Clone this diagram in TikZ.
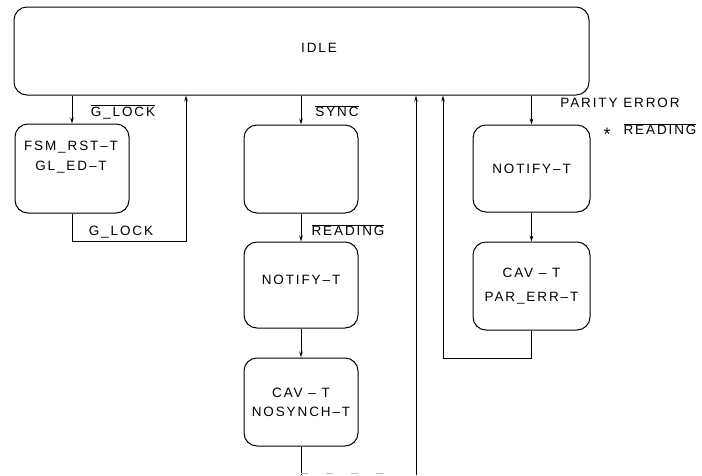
\documentclass[tikz,border=0pt]{standalone}
\usepackage{fontspec}
\setmainfont{Liberation Sans}[LetterSpace=14]
\usetikzlibrary{arrows.meta}
\newcommand\ovl[1]{$\overline{\mbox{#1}}$}
\newcommand\lblfont{\fontsize{13.5}{16}\selectfont}
\tikzset{
  statebox/.style={draw, line width=1pt, rounded corners=13pt, align=center, font=\lblfont, inner sep=0pt},
  lbl/.style={font=\lblfont, inner sep=0pt, align=center},
  arr/.style={line width=1pt, -{Stealth[length=6pt,width=3.5pt]}},
  ln/.style={line width=1pt},
  faint/.style={line width=0.7pt, gray!55, dash pattern=on 7pt off 18pt}
}
\begin{document}
\begin{tikzpicture}[x=1pt,y=-1pt]
\useasboundingbox (0,0) rectangle (702,475);
% states
\node[statebox, minimum width=575pt, minimum height=88pt] (idle) at (301.5,51) {};
\node[lbl] (idletxt) at (319,48) {IDLE};
\node[statebox, minimum width=114pt, minimum height=89pt] (fsm) at (72,168.5) {};
\node[lbl] (fsmtxt) at (71,157) {FSM\_RST–T\\[4pt]GL\_ED–T};
\node[statebox, minimum width=114pt, minimum height=88pt] (blank) at (301,169) {};
\node[statebox, minimum width=114pt, minimum height=86pt] (notm) at (301,285) {};
\node[lbl] (notmtxt) at (301,280) {NOTIFY–T};
\node[statebox, minimum width=114pt, minimum height=88pt] (cavm) at (301,402) {CAV – T\\[3pt]NOSYNCH–T};
\node[statebox, minimum width=117pt, minimum height=87pt] (notr) at (531.5,168.5) {NOTIFY–T};
\node[statebox, minimum width=117pt, minimum height=88pt] (cavr) at (531.5,286) {CAV – T\\[8pt]PAR\_ERR–T};
% labels
\node[lbl] (l1) at (123,112) {\ovl{G\_LOCK}};
\node[lbl] (l2) at (121,232) {G\_LOCK};
\node[lbl] (l3) at (337,111) {\ovl{SYNC}};
\node[lbl] (l4) at (348,230) {\ovl{READING}};
\node[lbl] (l5) at (620,103) {PARITY ERROR};
\node[lbl, font=\fontsize{18}{18}\selectfont] (l6) at (607,134) {*};
\node[lbl] (l7) at (660,129) {\ovl{READING}};
% helper coordinates
\coordinate (r1) at (186,241);
\coordinate (r2) at (443,358);
\coordinate (b1) at (301,475);
\coordinate (b2) at (385,473);
\coordinate (b3) at (416,475);
% connectors
\draw[arr] (idle.south -| fsm.north) -- (fsm.north);
\draw[arr] (fsm.south) |- (r1) -- (r1 |- idle.south);
\draw[arr] (idle.south -| blank.north) -- (blank.north);
\draw[arr] (blank.south) -- (notm.north);
\draw[arr] (notm.south) -- (cavm.north);
\draw[ln] (cavm.south) -- (b1);
\draw[faint] (b1 |- b2) -- (b2);
\draw[arr] (b3) -- (b3 |- idle.south);
\draw[arr] (idle.south -| notr.north) -- (notr.north);
\draw[arr] (notr.south) -- (cavr.north);
\draw[arr] (cavr.south) |- (r2) -- (r2 |- idle.south);
\end{tikzpicture}
\end{document}
